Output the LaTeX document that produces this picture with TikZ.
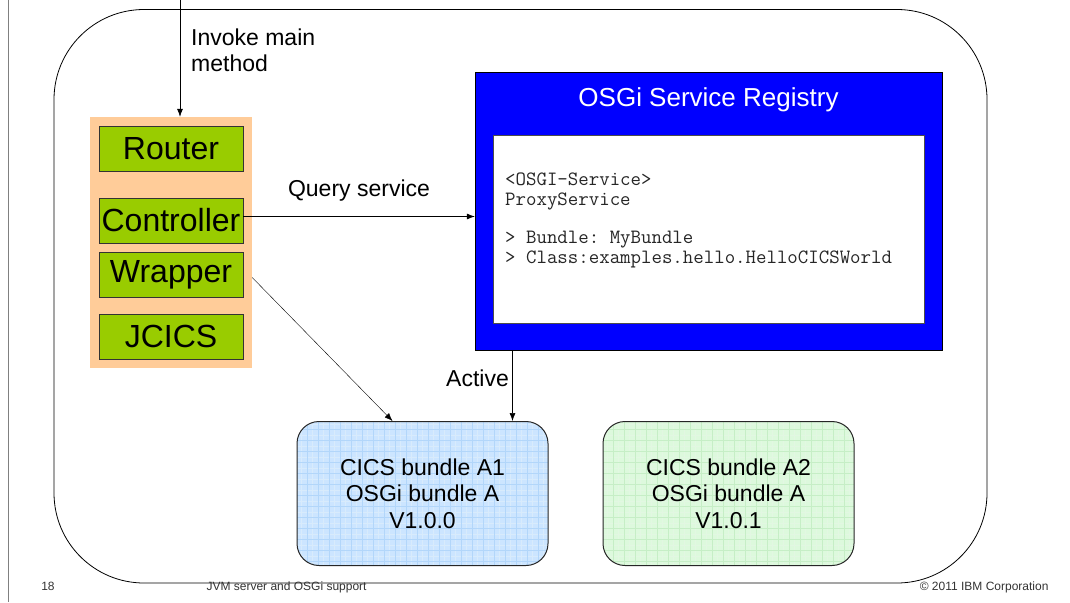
\documentclass[tikz,border=0pt]{standalone}
\usepackage{fontspec}
\setmainfont{Liberation Sans}
\usetikzlibrary{positioning, arrows.meta}

\definecolor{peach}{HTML}{FFCC99}
\definecolor{limegreen}{HTML}{99CC00}
\definecolor{regblue}{HTML}{0000FF}
\definecolor{bundleblue}{HTML}{CCE5FF}
\definecolor{gridblue}{HTML}{B2D6FA}
\definecolor{bundlegreen}{HTML}{DDF9DD}
\definecolor{gridgreen}{HTML}{C6EEC6}

\begin{document}
\frenchspacing
\begin{tikzpicture}[x=1pt, y=-1pt, node distance=54pt,
        arr/.style={-{Latex[length=8pt,width=6pt]}, line width=0.6pt},
        comp/.style={draw=black!80, fill=limegreen, minimum width=144pt, minimum height=45pt,
            inner sep=0pt, font=\fontsize{32}{38}\selectfont},
        bundle/.style 2 args={draw=black!85, line width=1pt, fill=#1, rounded corners=22pt,
            minimum width=251pt, minimum height=144pt, align=center,
            font=\fontsize{23}{26.5}\selectfont,
            path picture={
                \draw[#2!50, line width=0.3pt, step=5.5pt] (path picture bounding box.south west) grid (path picture bounding box.north east);
                \draw[#2, line width=0.5pt, step=11pt] (path picture bounding box.south west) grid (path picture bounding box.north east);
            }},
        lbl/.style={font=\fontsize{23}{26}\selectfont},
        foot/.style={font=\fontsize{12}{14}\selectfont, text=black!80}]
    \useasboundingbox (0,0) rectangle (1070,602);
    \draw[black!50] (8,0) -- (8,602);
    % JVM server container
    \draw[line width=0.8pt, rounded corners=90pt] (54,9.5) rectangle (987,583);

    % application stack
    \node[fill=peach, minimum width=162pt, minimum height=251pt] (stack) at (171,242.5) {};
    \node[comp] (router) at (171,148.5) {Router};
    \node[comp] (ctrl) at (171,220.5) {Controller};
    \node[comp] (wrap) at (171,274.5) {Wrapper};
    \node[comp] (jcics) at (171,336.5) {JCICS};

    % service registry
    \node[draw=black, fill=regblue, minimum width=467pt, minimum height=278pt] (reg) at (708.5,211) {};
    \node[text=white, font=\fontsize{26}{30}\selectfont] (regtitle) at (708.5,100) {OSGi Service Registry};
    \node[draw=black!70, fill=white, minimum width=431pt, minimum height=188pt] (svc) at (708.5,229) {};
    \node[anchor=north west, inner sep=0pt, align=left, text=black!85,
        font=\ttfamily\fontsize{20.3}{20}\selectfont] (svctext) at (505,173)
        {<OSGI-Service>\\ProxyService\\[18pt]> Bundle: MyBundle\\> Class:examples.hello.HelloCICSWorld};

    % bundles
    \node[bundle={bundleblue}{gridblue}] (a1) at (422.5,493.5) {CICS bundle A1\\OSGi bundle A\\V1.0.0};
    \node[bundle={bundlegreen}{gridgreen}, right=of a1] (a2) {CICS bundle A2\\OSGi bundle A\\V1.0.1};

    % connectors
    \coordinate (entry) at (180,0);
    \node[lbl, anchor=north west, inner sep=0pt, align=left] (invoke) at (191,29) {Invoke main\\method};
    \draw[arr] (entry) -- (entry |- stack.north);
    \draw[arr] ([yshift=4pt]ctrl.east) -- node[lbl, above=12pt] {Query service} ([yshift=4pt]ctrl.east -| reg.west);
    \draw[arr, line width=0.4pt] ([shift={(9,3)}]wrap.east) -- ([xshift=-30pt]a1.north);
    \coordinate (actx) at ([xshift=-36pt]a1.north east);
    \draw[arr] (actx |- reg.south) -- node[lbl, left, pos=0.39] {Active} (actx);

    % footer
    \node[foot, anchor=base] (pagenum) at (48,590) {18};
    \node[foot, anchor=base west] (doctitle) at (203,590) {JVM server and OSGi support};
    \node[foot, anchor=base east] (copyr) at (1052,590) {© 2011 IBM Corporation};
\end{tikzpicture}
\end{document}
